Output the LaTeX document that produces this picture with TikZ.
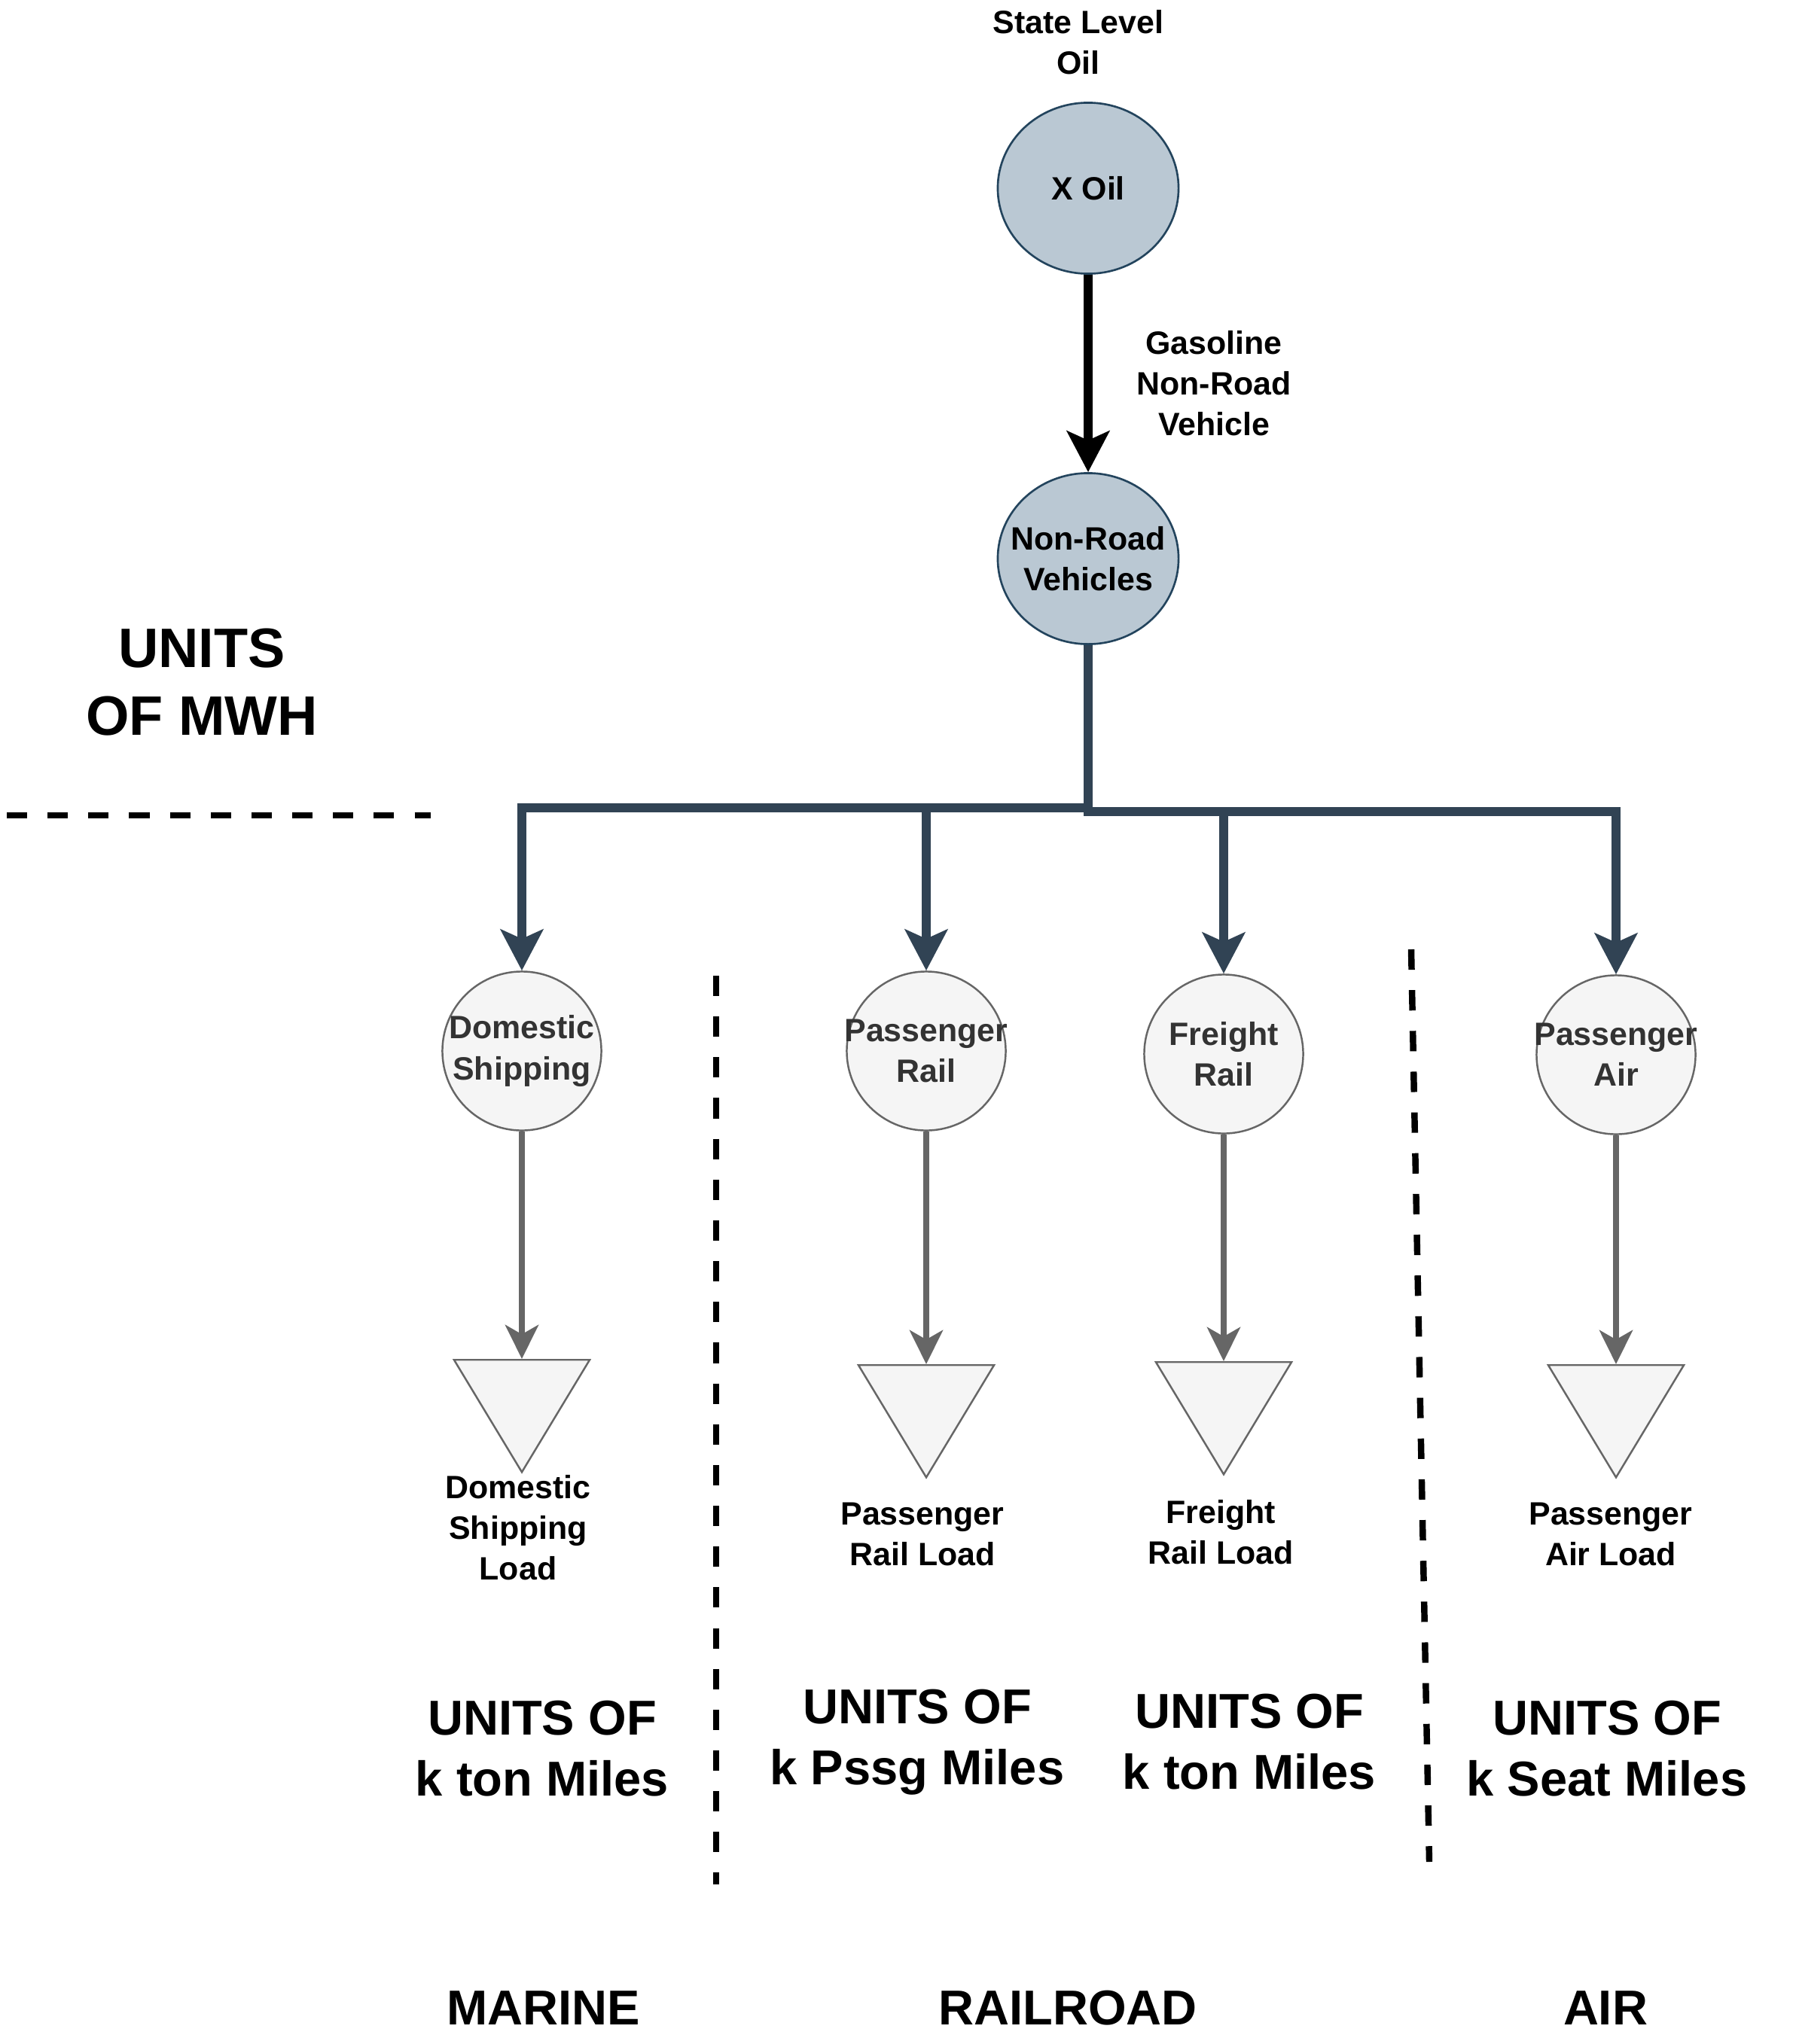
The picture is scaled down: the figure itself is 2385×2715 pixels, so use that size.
\documentclass[tikz,border=0pt]{standalone}
\usepackage{fontspec}
\setmainfont{Liberation Sans}
\usetikzlibrary{
  arrows.meta,
  shapes.geometric
}
\definecolor{topfill}{HTML}{BAC8D3}
\definecolor{topline}{HTML}{23445D}
\definecolor{busline}{HTML}{314354}
\definecolor{subfill}{HTML}{F5F5F5}
\definecolor{subline}{HTML}{666666}
\definecolor{subtext}{HTML}{333333}
\newcommand{\inring}[1]{\makebox[0pt]{#1}}

\begin{document}
\begin{tikzpicture}[
  x=0.01cm, y=-0.01cm,
  small/.style={font=\fontsize{12.2}{15.4}\selectfont\bfseries, align=center, inner sep=0pt},
  big/.style={font=\fontsize{18.5}{23}\selectfont\bfseries, align=center, inner sep=0pt},
  top node/.style={ellipse, draw=topline, fill=topfill, line width=0.75pt,
    minimum width=2.4cm, minimum height=2.27cm, small},
  sub node/.style={ellipse, draw=subline, fill=subfill, line width=0.7pt,
    minimum width=2.11cm, minimum height=2.11cm, small, text=subtext},
  load/.style={isosceles triangle, isosceles triangle stretches, shape border rotate=270,
    draw=subline, fill=subfill, line width=0.7pt, minimum width=1.8cm, minimum height=1.49cm,
    inner sep=0pt},
  feed/.style={line width=3.2pt, -{Stealth[length=15.5pt, width=16pt, inset=3.5pt]}},
  bus/.style={feed, draw=busline},
  drop/.style={draw=subline, line width=2.2pt, -{Stealth[length=12.8pt, width=12.5pt, inset=3.5pt]}},
  divider/.style={line width=2.4pt, dash pattern=on 7.7pt off 7.7pt}
]
\useasboundingbox (0,0) rectangle (2385,2715);

\node[small] (state) at (1432,56) {State Level\\Oil};
\node[top node] (xoil) at (1445,250) {\inring{X Oil}};
\node[top node] (nrv) at (1445,742) {\inring{Non-Road}\\\inring{Vehicles}};
\node[small] (gas) at (1612,509) {Gasoline\\Non-Road\\Vehicle};
\draw[feed] (xoil) -- (nrv);

\node[font=\fontsize{21}{25.6}\selectfont\bfseries, align=center, inner sep=0pt] (mwh) at (268,906) {UNITS\\OF MWH};
\draw[divider] (9,1083) -- (572,1083);

\node[sub node] (dom) at (693,1396) {\inring{Domestic}\\\inring{Shipping}};
\node[sub node] (prail) at (1230,1396) {\inring{Passenger}\\\inring{Rail}};
\node[sub node] (frail) at (1625,1400) {\inring{Freight}\\\inring{Rail}};
\node[sub node] (pair) at (2146,1401) {\inring{Passenger}\\\inring{Air}};

\coordinate (busl) at (1445,1073);
\coordinate (busr) at (1445,1078);
\draw[bus] (nrv.south) -- (busl) -| (dom.north);
\draw[bus] (nrv.south) -- (busl) -| (prail.north);
\draw[bus] (nrv.south) -- (busr) -| (frail.north);
\draw[bus] (nrv.south) -- (busr) -| (pair.north);

\node[load, anchor=north] (domload) at (693,1805) {};
\node[load, anchor=north] (prailload) at (1230,1812) {};
\node[load, anchor=north] (frailload) at (1625,1808) {};
\node[load, anchor=north] (pairload) at (2146,1812) {};
\draw[drop] (dom.south) -- (domload.north);
\draw[drop] (prail.south) -- (prailload.north);
\draw[drop] (frail.south) -- (frailload.north);
\draw[drop] (pair.south) -- (pairload.north);

\node[small] (domtext) at (688,2029) {Domestic\\Shipping\\Load};
\node[small] (prailtext) at (1225,2038) {Passenger\\Rail Load};
\node[small] (frailtext) at (1621,2035) {Freight\\Rail Load};
\node[small] (pairtext) at (2139,2038) {Passenger\\Air Load};

\node[big] (domunit) at (720,2323) {UNITS OF\\k ton Miles};
\node[big] (prailunit) at (1218,2314) {UNITS OF\\k Pssg Miles};
\node[big] (frailunit) at (1659,2314) {UNITS OF\\k ton Miles};
\node[big] (pairunit) at (2134,2323) {UNITS OF\\k Seat Miles};

\draw[divider] (951,1296) -- (951,2503);
\draw[divider] (1874,1261) -- (1898,2473);

\node[big] (marine) at (722,2667) {MARINE};
\node[big] (railroad) at (1418,2667) {RAILROAD};
\node[big] (air) at (2132,2667) {AIR};
\end{tikzpicture}
\end{document}
